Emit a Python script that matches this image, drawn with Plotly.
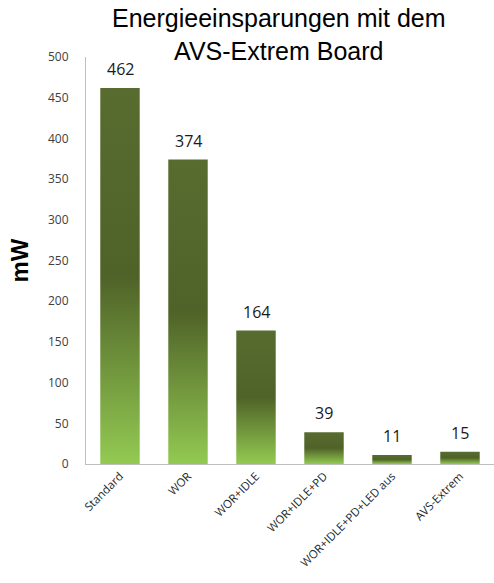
import plotly.graph_objects as go

categories = ["Standard", "WOR", "WOR+IDLE", "WOR+IDLE+PD", "WOR+IDLE+PD+LED aus", "AVS-Extrem"]
values = [462, 374, 164, 39, 11, 15]

bar_width = 0.58
fig = go.Figure()
for i, v in enumerate(values):
    x0, x1 = i - bar_width / 2, i + bar_width / 2
    fig.add_trace(go.Scatter(
        x=[x0, x1, x1, x0, x0], y=[0, 0, v, v, 0],
        mode="lines", fill="toself", line=dict(width=0, color="rgba(0,0,0,0)"),
        fillgradient=dict(type="vertical", start=0, stop=v,
                          colorscale=[[0, "#93ca52"], [0.5, "#4f6228"], [1, "#586c30"]]),
        hoverinfo="skip", showlegend=False))

for i, v in enumerate(values):
    fig.add_annotation(x=i, y=v, text=str(v), showarrow=False, yanchor="bottom", yshift=6,
                       font=dict(family="Open Sans, DejaVu Sans", size=16, color="#1a1a1a"))

fig.add_annotation(xref="paper", yref="paper", x=0.473, y=1.135, xanchor="center", yanchor="top",
                   text="Energieeinsparungen mit dem<br>AVS-Extrem Board", showarrow=False,
                   font=dict(family="Liberation Sans, Arial", size=25, color="black"))

fig.update_layout(
    width=494, height=583,
    margin=dict(l=86, r=0, t=57, b=119),
    paper_bgcolor="white", plot_bgcolor="white",
    xaxis=dict(range=[-0.5, 5.5], tickvals=list(range(len(categories))), ticktext=categories,
               tickangle=-45, showgrid=False, zeroline=False, showline=True, linecolor="#bfbfbf",
               linewidth=1, ticks="", tickfont=dict(family="Open Sans, DejaVu Sans", size=11.5, color="#262626")),
    yaxis=dict(range=[0, 500], tickvals=list(range(0, 501, 50)), showgrid=False, zeroline=False,
               showline=True, linecolor="#bfbfbf", linewidth=1, ticks="", ticklabelstandoff=14,
               tickfont=dict(family="Open Sans, DejaVu Sans", size=12, color="#404040"),
               title=dict(text="<b>mW</b>", standoff=12,
                          font=dict(family="Liberation Sans, Arial", size=24, color="black"))),
)
fig.write_html("out.html")
